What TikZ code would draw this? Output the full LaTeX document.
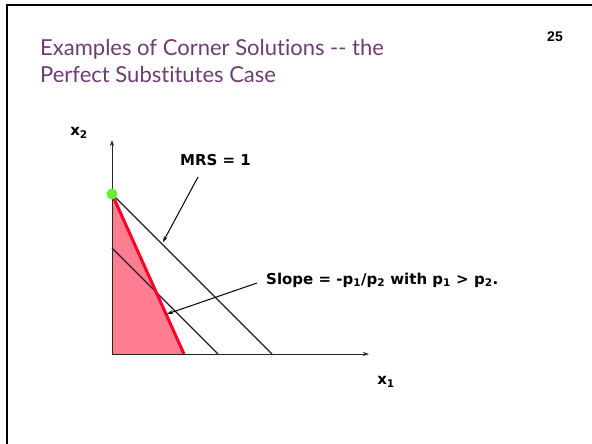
\documentclass[tikz,border=0pt]{standalone}
\usepackage{fontspec}
\setmainfont{Liberation Sans}
\newfontfamily\titlefont[Ligatures=NoCommon]{Lato}
\newfontfamily\labelfont{DejaVu Sans}
\usetikzlibrary{arrows.meta}
\definecolor{titlepurple}{RGB}{110,60,114}
\definecolor{fillpink}{RGB}{255,125,145}
\definecolor{redline}{RGB}{255,0,40}
\definecolor{dotgreen}{RGB}{102,238,51}
\definecolor{linedark}{RGB}{40,25,40}
\tikzset{
  titletext/.style={anchor=base west,inner sep=0pt,font=\titlefont\fontsize{22}{22}\selectfont,text=titlepurple},
  lbl/.style={inner sep=0pt,font=\labelfont\bfseries\fontsize{15}{15}\selectfont},
  axis/.style={line width=0.8pt,draw=black!85,-{Stealth[length=6pt,width=4pt]}},
  indiff/.style={line width=1.3pt,draw=linedark},
  callout/.style={line width=1pt,draw=black,-{Stealth[length=6pt,width=4pt]}},
}
\begin{document}
\begin{tikzpicture}[x=1pt,y=-1pt]
\useasboundingbox (0,0) rectangle (592,444);
% frame
\draw[line width=2.2pt] (7,444) -- (7,5) -- (592,5);
% page number
\node[inner sep=0pt,font=\bfseries\fontsize{14}{14}\selectfont] (pnum) at (555,37) {25};
% title
\node[titletext] (t1) at (40,56) {Examples of Corner Solutions -{}- the};
\node[titletext] (t2) at (40,83) {Perfect Substitutes Case};
% points
\coordinate (O) at (112,354);
\coordinate (ytop) at (112,140);
\coordinate (xend) at (369,354);
\coordinate (A) at (112,194);
\coordinate (B) at (184,354);
\coordinate (C) at (112,248);
\coordinate (D) at (218,354);
\coordinate (E) at (272,354);
% feasible region
\fill[fillpink] (A) -- (B) -- (O) -- cycle;
% indifference lines
\draw[indiff] (A) -- (E);
\draw[indiff] (C) -- (D);
% budget line
\draw[line width=3pt,draw=redline] (A) -- (B);
% axes
\draw[axis] (O) -- (ytop);
\draw[axis] (O) -- (xend);
% axis labels
\node[lbl] (x2) at (79,133) {x\textsubscript{2}};
\node[lbl] (x1) at (386,382) {x\textsubscript{1}};
% labels
\node[lbl,anchor=west] (mrs) at (180,160) {MRS = 1};
\coordinate (mrstip) at (163,242);
\draw[callout] (198,177) -- (mrstip);
\node[lbl,anchor=west] (slope) at (266,280) {Slope = -p\textsubscript{1}/p\textsubscript{2} with p\textsubscript{1} > p\textsubscript{2}.};
\coordinate (slopetip) at (167,314);
\draw[callout] (slope.west) ++(-9,3) -- (slopetip);
% corner solution
\fill[dotgreen] (A) circle (5.5);
\end{tikzpicture}
\end{document}
